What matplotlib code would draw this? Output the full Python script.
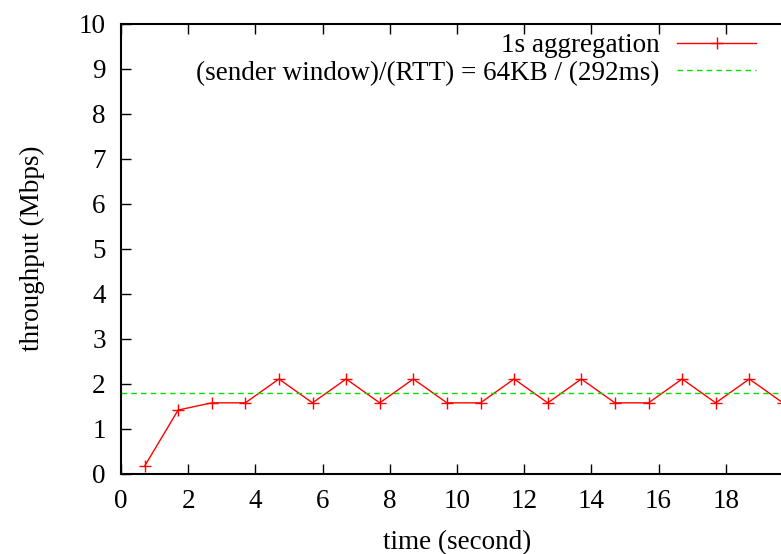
import matplotlib
matplotlib.use('Agg')
import matplotlib.pyplot as plt

# throughput samples, 1 s aggregation
time_s = [0.7, 1.7, 2.7, 3.7, 4.7, 5.7, 6.7, 7.7, 8.7, 9.7,
          10.7, 11.7, 12.7, 13.7, 14.7, 15.7, 16.7, 17.7, 18.7, 19.7]
throughput = [0.16, 1.41, 1.57, 1.57, 2.1, 1.57, 2.1, 1.57, 2.1, 1.57,
              1.57, 2.1, 1.57, 2.1, 1.57, 1.57, 2.1, 1.57, 2.1, 1.57]
window_rate = 64 * 1024 * 8 / 0.292 / 1e6  # Mbps

x_ticks = [0, 2, 4, 6, 8, 10, 12, 14, 16, 18]
y_ticks = [0, 1, 2, 3, 4, 5, 6, 7, 8, 9, 10]

plt.rcParams['font.family'] = ['Liberation Serif', 'DejaVu Serif']
fs = 19.5

fig = plt.figure(figsize=(7.81, 5.54), dpi=100)
# axis runs past the right edge of the picture (cropped like the original)
ax = fig.add_axes([121 / 781, 1 - 473.5 / 554, 672 / 781, 450 / 554])

ax.plot(time_s, throughput, color='red', lw=1, marker='+', ms=8, mew=1,
        label='1s aggregation')
ax.axhline(window_rate, color='#00e000', lw=1, ls=(0, (4, 3)),
           label='(sender window)/(RTT) = 64KB / (292ms)')

ax.set_xlim(0, 20)
ax.set_ylim(0, 10)
ax.set_xticks(x_ticks)
ax.set_yticks(y_ticks)
ax.tick_params(direction='in', length=7, width=1, top=True, right=True,
               labelsize=fs, pad=11)
for s in ax.spines.values():
    s.set_linewidth(1.5)

ax.set_xlabel('time (second)', fontsize=fs, labelpad=12)
ax.set_ylabel('throughput (Mbps)', fontsize=fs, labelpad=24)

leg = ax.legend(loc='upper right', bbox_to_anchor=(756 / 781, 1 - 33 / 554),
                bbox_transform=fig.transFigure, markerfirst=False,
                frameon=False, handlelength=2.9, handletextpad=0.65,
                labelspacing=0.1, fontsize=fs, borderaxespad=0, borderpad=0)

fig.savefig('out.png', dpi=100)
